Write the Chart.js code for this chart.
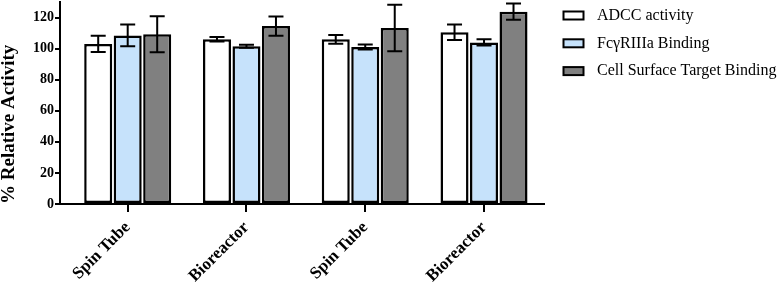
<!DOCTYPE html>
<html><head><meta charset="utf-8">
<script src="https://cdn.jsdelivr.net/npm/chart.js@4/dist/chart.umd.min.js"></script>
<style>html,body{margin:0;padding:0;background:#fff}</style>
</head><body>
<canvas id="c" width="782" height="283"></canvas>
<script>
const categories = ['Spin Tube', 'Bioreactor', 'Spin Tube', 'Bioreactor'];
const seriesNames = ['ADCC activity', 'FcγRIIIa Binding', 'Cell Surface Target Binding'];
const adccValues = [103, 106, 106, 110.5];
const adccErrors = [5.2, 1.5, 2.8, 5.0];
const fcValues = [108.5, 101.5, 101, 104];
const fcErrors = [7, 1, 1.6, 2];
const cellValues = [109.2, 114.5, 113.3, 123.8];
const cellErrors = [11.6, 6.2, 15, 5.3];
const yTickValues = [0, 20, 40, 60, 80, 100, 120];
const yAxisTitle = '% Relative Activity';

const FONT = '"Liberation Serif", "Times New Roman", serif';
const seriesColors = ['#ffffff', '#c6e2fb', '#808080'];
const seriesValues = [adccValues, fcValues, cellValues];
const seriesErrors = [adccErrors, fcErrors, cellErrors];

const errorBarPlugin = {
  id: 'errorBars',
  afterDatasetsDraw(chart) {
    const ctx = chart.ctx;
    const ys = chart.scales.y;
    ctx.save();
    ctx.strokeStyle = '#000';
    ctx.lineWidth = 2;
    chart.data.datasets.forEach((ds, di) => {
      const meta = chart.getDatasetMeta(di);
      meta.data.forEach((bar, j) => {
        const v = seriesValues[di][j], e = seriesErrors[di][j];
        const yh = ys.getPixelForValue(v + e), yl = ys.getPixelForValue(v - e);
        const x = bar.x, cap = 7.5;
        ctx.beginPath();
        ctx.moveTo(x, yh); ctx.lineTo(x, yl);
        ctx.moveTo(x - cap, yh); ctx.lineTo(x + cap, yh);
        ctx.moveTo(x - cap, yl); ctx.lineTo(x + cap, yl);
        ctx.stroke();
      });
    });
    ctx.restore();
  }
};

const legendPlugin = {
  id: 'customLegend',
  afterDraw(chart) {
    const ctx = chart.ctx;
    const ca = chart.chartArea;
    ctx.save();
    seriesNames.forEach((name, i) => {
      const cy = 15.5 + i * 27.8;
      const bx = ca.right + 19.5;
      ctx.fillStyle = seriesColors[i];
      ctx.fillRect(bx, cy - 4, 20, 8);
      ctx.strokeStyle = '#000';
      ctx.lineWidth = 2;
      ctx.strokeRect(bx, cy - 4, 20, 8);
      ctx.fillStyle = '#000';
      ctx.font = '16px ' + FONT;
      ctx.textBaseline = 'middle';
      ctx.textAlign = 'left';
      ctx.fillText(name, bx + 33.5, cy);
    });
    ctx.restore();
  }
};

new Chart(document.getElementById('c'), {
  type: 'bar',
  data: {
    datasets: seriesNames.map((name, si) => ({
      label: name,
      data: seriesValues[si].map((v, i) => ({x: i, y: v})),
      backgroundColor: seriesColors[si],
      borderColor: '#000',
      borderWidth: 2.5,
      borderSkipped: false,
      categoryPercentage: 0.745,
      barPercentage: 0.95
    }))
  },
  options: {
    responsive: false,
    devicePixelRatio: 1,
    animation: false,
    layout: {padding: {top: 2, right: 238, left: 0, bottom: 0}},
    plugins: {legend: {display: false}, tooltip: {enabled: false}},
    scales: {
      x: {
        type: 'linear',
        offset: false,
        min: -0.57,
        max: 3.505,
        afterBuildTicks: s => { s.ticks = categories.map((c, i) => ({value: i})); },
        afterFit: s => { s.height = 79; s.paddingLeft = 0; s.paddingRight = 0; },
        ticks: {
          callback: v => categories[v],
          autoSkip: false,
          minRotation: 45,
          maxRotation: 45,
          padding: 5.5,
          color: '#000',
          font: {family: FONT, size: 17, weight: 'bold'}
        },
        grid: {offset: false, drawOnChartArea: false, drawTicks: true, tickLength: 8, color: '#000', lineWidth: 2},
        border: {color: '#000', width: 2}
      },
      y: {
        min: 0,
        max: 130,
        afterBuildTicks: s => { s.ticks = yTickValues.map(v => ({value: v})); },
        afterFit: s => { s.width = 60; s.paddingTop = 0; s.paddingBottom = 0; },
        ticks: {
          padding: 1,
          color: '#000',
          font: {family: FONT, size: 14, weight: 'bold'}
        },
        grid: {drawOnChartArea: false, drawTicks: true, tickLength: 5, color: '#000', lineWidth: 2},
        border: {color: '#000', width: 2},
        title: {
          display: true,
          text: yAxisTitle,
          align: 'start',
          color: '#000',
          padding: {top: 0, bottom: 0},
          font: {family: FONT, size: 19, weight: 'bold', lineHeight: 1}
        }
      }
    }
  },
  plugins: [errorBarPlugin, legendPlugin]
});
</script>
</body></html>
